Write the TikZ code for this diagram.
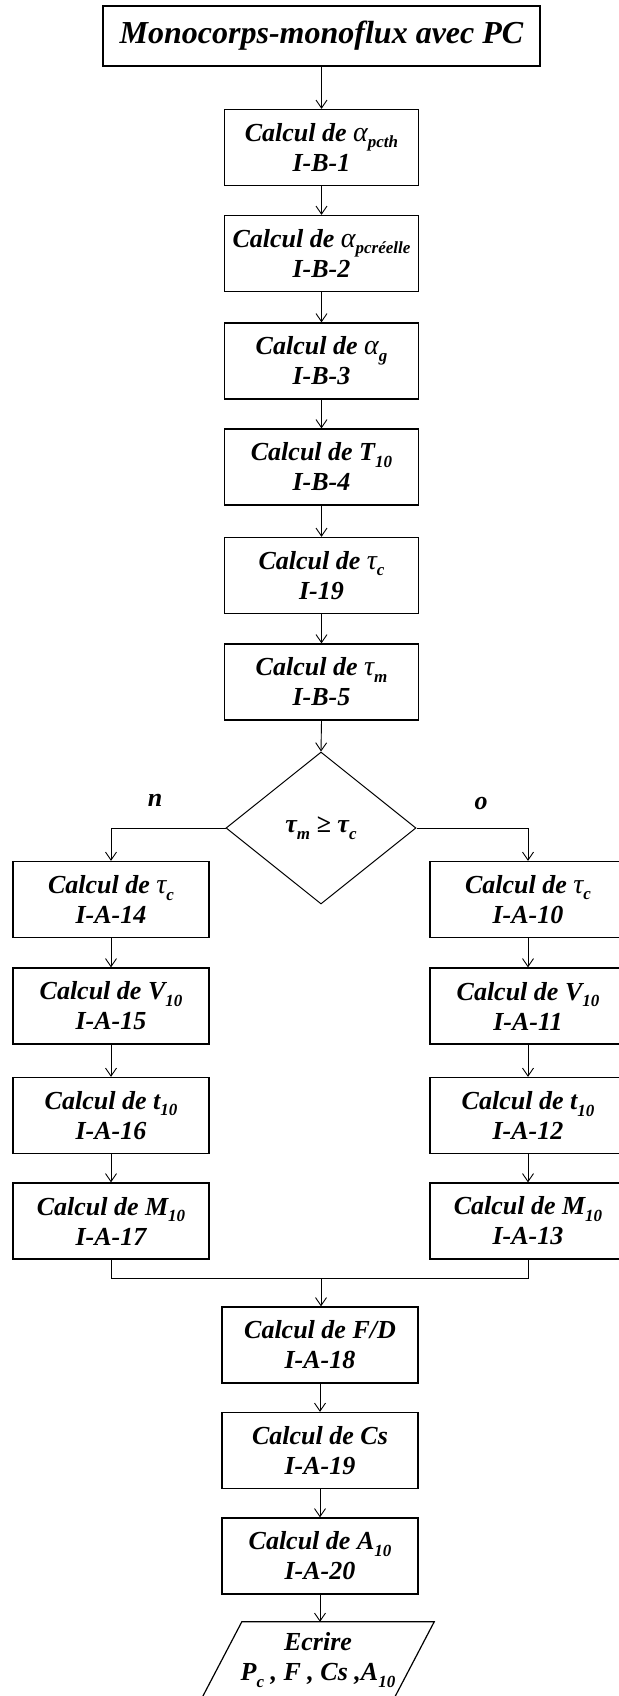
\documentclass[tikz,border=0pt]{standalone}
\usepackage{fontspec}
\setmainfont{Liberation Serif}
\usetikzlibrary{arrows.meta,shapes.geometric}
% lowered small index, e.g. T_{10}
\newcommand\sbs[1]{\raisebox{-0.25em}{\fontsize{17}{17}\selectfont #1}}
% greek letters in a lighter weight
\newcommand\gk[1]{{\mdseries\fontsize{28}{30}\selectfont #1}}

\begin{document}
\begin{tikzpicture}[x=1pt,y=-1pt,
  every node/.style={font=\bfseries\itshape\fontsize{26}{30}\selectfont, align=center, inner sep=0pt},
  calcbox/.style={draw, line width=1.3pt, minimum width=194pt, minimum height=76pt},
  sidebox/.style={calcbox, minimum width=196pt},
  flow/.style={line width=0.9pt, -{Straight Barb[length=8pt,width=11pt]}},
  link/.style={line width=0.9pt},
  answer/.style={font=\bfseries\itshape\fontsize{26}{30}\selectfont},
]
\useasboundingbox (0,0) rectangle (618,1696);

% heading
\node[calcbox, minimum width=437pt, minimum height=60pt,
      font=\bfseries\itshape\fontsize{32}{36}\selectfont] (title) at (321.5,36) {Monocorps-monoflux avec PC};

% main column
\node[calcbox] (b1) at (321.5,147.5) {Calcul de \gk{α}\sbs{pcth}\\I-B-1};
\node[calcbox] (b2) at (321.5,253.5) {Calcul de \gk{α}\sbs{pcréelle}\\I-B-2};
\node[calcbox] (b3) at (321.5,361)   {Calcul de \gk{α}\sbs{g}\\I-B-3};
\node[calcbox] (b4) at (321.5,467)   {Calcul de T\sbs{10}\\I-B-4};
\node[calcbox] (b5) at (321.5,575.5) {Calcul de \gk{τ}\sbs{c}\\I-19};
\node[calcbox] (b6) at (321.5,682)   {Calcul de \gk{τ}\sbs{m}\\I-B-5};

% test
\node[diamond, draw, line width=1pt, minimum width=190pt, minimum height=152pt,
      font=\bfseries\itshape\fontsize{26}{30}\selectfont] (dec) at (321,828) {τ\sbs{m} ≥ τ\sbs{c}};
\node[answer] (ln) at (155,800) {n};
\node[answer] (lo) at (481,803) {o};

% left branch
\node[sidebox] (l1) at (111,899.5) {Calcul de \gk{τ}\sbs{c}\\I-A-14};
\node[sidebox] (l2) at (111,1006)  {Calcul de V\sbs{10}\\I-A-15};
\node[sidebox] (l3) at (111,1115.5){Calcul de t\sbs{10}\\I-A-16};
\node[sidebox] (l4) at (111,1221)  {Calcul de M\sbs{10}\\I-A-17};

% right branch
\node[sidebox] (r1) at (528,899.5) {Calcul de \gk{τ}\sbs{c}\\I-A-10};
\node[sidebox] (r2) at (528,1006)  {Calcul de V\sbs{10}\\I-A-11};
\node[sidebox] (r3) at (528,1115.5){Calcul de t\sbs{10}\\I-A-12};
\node[sidebox] (r4) at (528,1221)  {Calcul de M\sbs{10}\\I-A-13};

% joined column
\coordinate (m) at (321,1278);
\node[sidebox] (fd)  at (320,1345)   {Calcul de F/D\\I-A-18};
\node[sidebox] (cs)  at (320,1450.5) {Calcul de Cs\\I-A-19};
\node[sidebox] (a10) at (320,1556)   {Calcul de A\sbs{10}\\I-A-20};

% output
\node[minimum width=192pt, minimum height=76pt] (out) at (318,1660)
  {Ecrire\\P\sbs{c} , F , Cs ,A\sbs{10}};
\draw[line width=1.2pt] ([xshift=20pt]out.north west) -- ([xshift=20pt]out.north east)
  -- ([xshift=-20pt]out.south east) -- ([xshift=-20pt]out.south west) -- cycle;

% connectors
\draw[flow] (title.south) -- (b1.north);
\draw[flow] (b1) -- (b2);
\draw[flow] (b2) -- (b3);
\draw[flow] (b3) -- (b4);
\draw[flow] (b4) -- (b5);
\draw[flow] (b5) -- (b6);
\draw[flow] (b6.south) -- (dec.north);
\draw[flow] (dec.west) -| (l1.north);
\draw[flow] (dec.east) -| (r1.north);
\draw[flow] (l1) -- (l2);
\draw[flow] (l2) -- (l3);
\draw[flow] (l3) -- (l4);
\draw[flow] (r1) -- (r2);
\draw[flow] (r2) -- (r3);
\draw[flow] (r3) -- (r4);
\draw[link] (l4.south) |- (m) -| (r4.south);
\draw[flow] (m) -- (m |- fd.north);
\draw[flow] (fd) -- (cs);
\draw[flow] (cs) -- (a10);
\draw[flow] (a10.south) -- (a10.south |- out.north);
\end{tikzpicture}
\end{document}
